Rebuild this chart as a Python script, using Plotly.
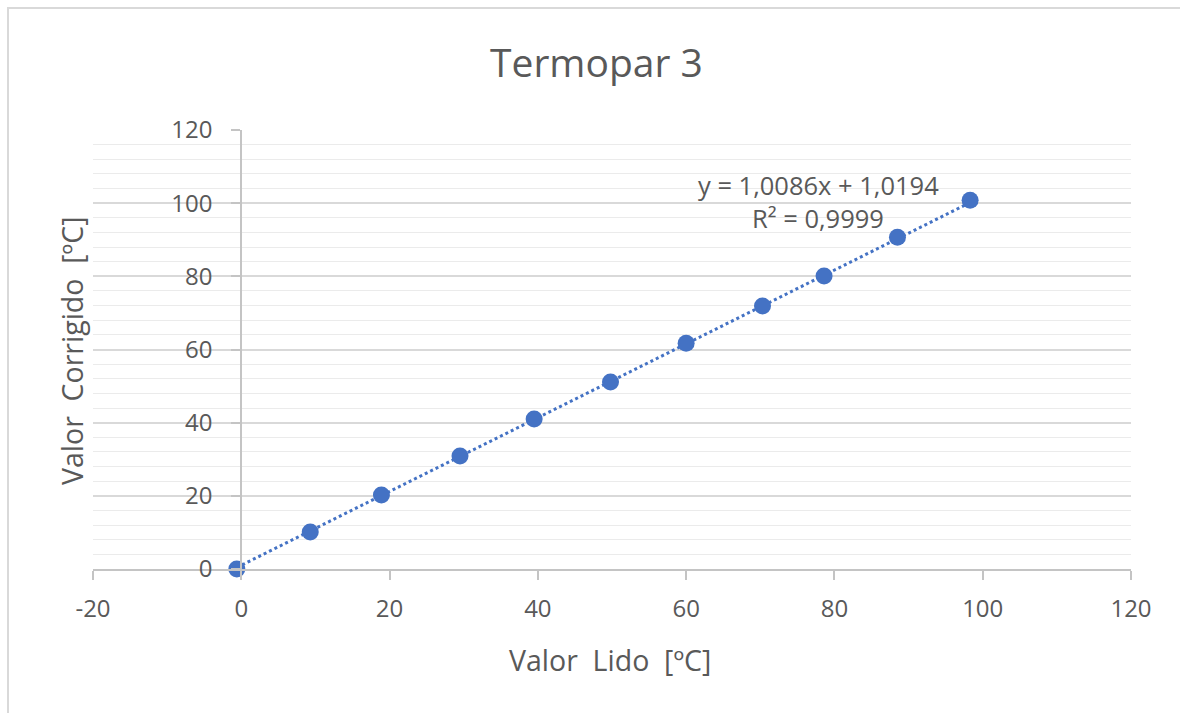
import plotly.graph_objects as go

# Leituras do termopar 3 (valor lido vs. valor corrigido), em ºC
valor_lido = [-0.6, 9.3, 18.9, 29.5, 39.5, 49.8, 60.0, 70.3, 78.6, 88.5, 98.3]
valor_corrigido = [0.0, 10.1, 20.2, 30.9, 41.0, 51.1, 61.7, 71.9, 80.1, 90.7, 100.8]

# Linha de tendência linear
slope = 1.0086
intercept = 1.0194
r2 = 0.9999

x_ticks = [-20, 0, 20, 40, 60, 80, 100, 120]
y_ticks = [0, 20, 40, 60, 80, 100, 120]

FONT = "Open Sans"
TXT = "#595959"
BLUE = "#4472C4"
NB = "\u00a0"

trend_x = [min(valor_lido), max(valor_lido)]
trend_y = [slope * v + intercept for v in trend_x]

fig = go.Figure()
fig.add_trace(go.Scatter(
    x=trend_x, y=trend_y, mode="lines",
    line=dict(color=BLUE, width=3, dash="dot"),
    hoverinfo="skip", showlegend=False,
))
fig.add_trace(go.Scatter(
    x=valor_lido, y=valor_corrigido, mode="markers",
    marker=dict(color=BLUE, size=17),
    cliponaxis=False, showlegend=False,
))

eq_text = f"y = {slope:.4f}x + {intercept:.4f}".replace(".", ",")
r2_text = f"R² = {r2:.4f}".replace(".", ",")

fig.update_layout(
    width=1180, height=713, autosize=False,
    margin=dict(l=93, r=49, t=130, b=144),
    paper_bgcolor="white", plot_bgcolor="white",
    font=dict(family=FONT, color=TXT),
    xaxis=dict(
        range=[-20, 120], domain=[0, 1],
        tickvals=x_ticks, ticktext=[str(v) for v in x_ticks],
        showline=True, linecolor="#c4c4c4", linewidth=2,
        ticks="outside", ticklen=9, tickwidth=2, tickcolor="#c4c4c4",
        showgrid=False, zeroline=False,
        tickfont=dict(size=24, color=TXT, family=FONT),
        ticklabelstandoff=8,
    ),
    yaxis=dict(
        range=[0, 120], tickvals=y_ticks, ticktext=[str(v) for v in y_ticks],
        anchor="free", position=20 / 140,
        showline=True, linecolor="#c4c4c4", linewidth=2,
        ticks="outside", ticklen=9, tickwidth=2, tickcolor="#c4c4c4",
        showgrid=True, gridcolor="#d9d9d9", gridwidth=1.5,
        minor=dict(dtick=4, showgrid=True, gridcolor="#ebebeb", gridwidth=1, ticks=""),
        zeroline=False,
        tickfont=dict(size=24, color=TXT, family=FONT),
        ticklabelstandoff=14,
    ),
    shapes=[dict(
        type="rect", xref="paper", yref="paper",
        x0=-0.0819, x1=1.06, y0=-0.35, y1=1.278,
        line=dict(color="#d9d9d9", width=2), fillcolor="rgba(0,0,0,0)", layer="below",
    )],
    annotations=[
        dict(text="Termopar 3", xref="paper", yref="paper", x=0.4855, y=1.155,
             xanchor="center", yanchor="middle", showarrow=False,
             font=dict(size=39, color=TXT, family=FONT)),
        dict(text=f"Valor{NB}{NB}Lido{NB}{NB}[ºC]", xref="paper", yref="paper",
             x=0.498, y=-0.207, xanchor="center", yanchor="middle", showarrow=False,
             font=dict(size=28.5, color=TXT, family=FONT)),
        dict(text=f"Valor{NB}{NB}Corrigido{NB}{NB}[ºC]", xref="paper", yref="paper",
             x=-0.0202, y=0.4966, xanchor="center", yanchor="middle", showarrow=False,
             textangle=-90, font=dict(size=28.5, color=TXT, family=FONT)),
        dict(text=eq_text, xref="x", yref="y", x=77.8, y=105.0,
             xanchor="center", yanchor="middle", showarrow=False,
             font=dict(size=25.5, color=TXT, family=FONT)),
        dict(text=r2_text, xref="x", yref="y", x=77.8, y=96.0,
             xanchor="center", yanchor="middle", showarrow=False,
             font=dict(size=25.5, color=TXT, family=FONT)),
    ],
)

fig.write_html("out.html")
